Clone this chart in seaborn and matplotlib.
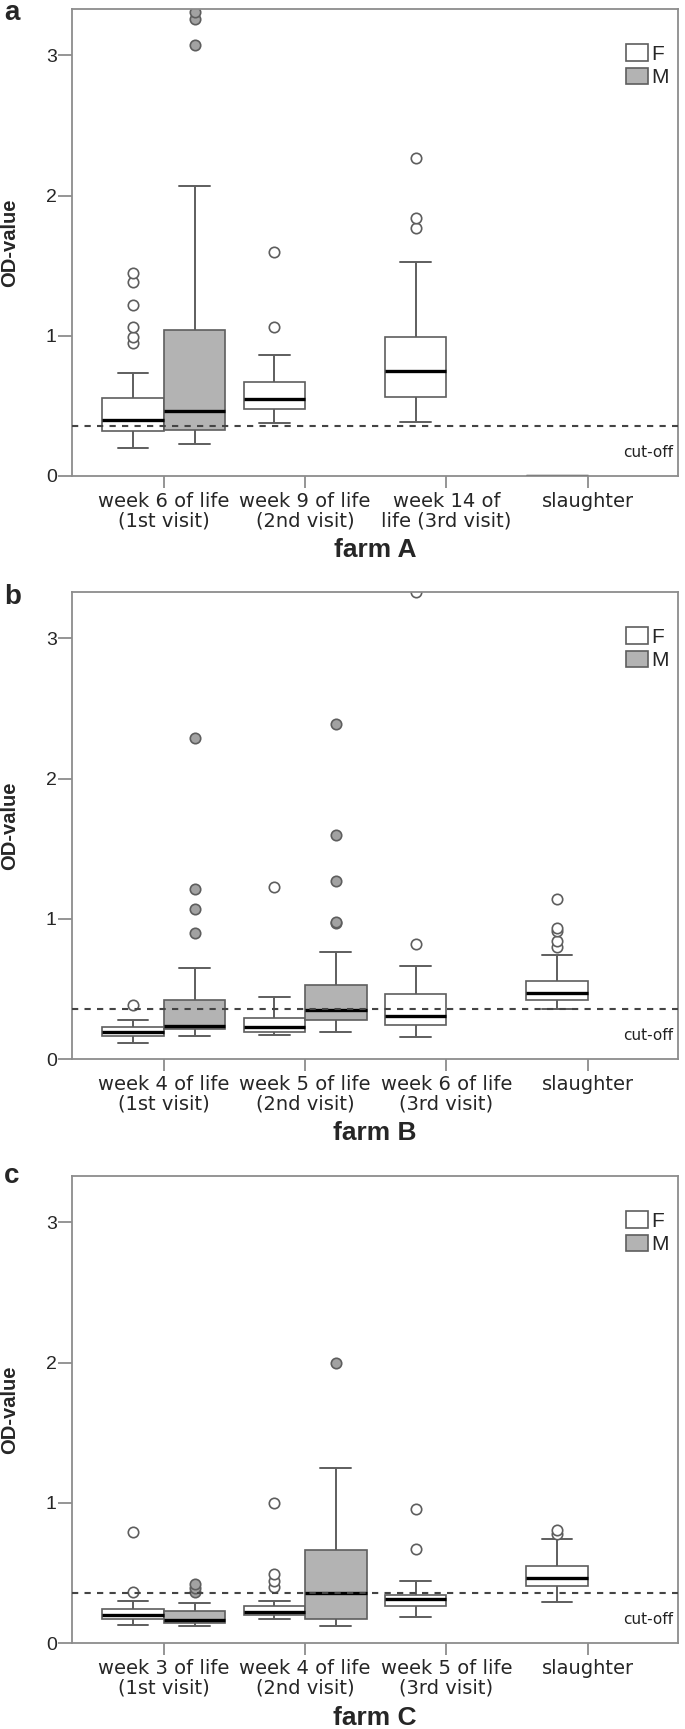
import pandas as pd
import matplotlib.pyplot as plt
import seaborn as sns
from matplotlib.patches import Patch

# box summaries: (lower whisker, Q1, median, Q3, upper whisker)
sexes = ["F", "M"]
cutoff = 0.36

farm_a_visits = ["week 6 of life\n(1st visit)", "week 9 of life\n(2nd visit)",
                 "week 14 of\nlife (3rd visit)", "slaughter"]
farm_a_idx = [0, 0, 1, 2, 3]
farm_a_sex = ["F", "M", "F", "F", "F"]
farm_a_box = [(0.20, 0.32, 0.40, 0.555, 0.737),
              (0.225, 0.33, 0.46, 1.04, 2.07),
              (0.38, 0.48, 0.55, 0.67, 0.86),
              (0.385, 0.56, 0.75, 0.99, 1.525),
              (0.0, 0.0, 0.0, 0.0, 0.0)]
farm_a_out = [[0.95, 0.99, 1.06, 1.22, 1.38, 1.45],
              [3.07, 3.26, 3.31],
              [1.06, 1.60],
              [1.77, 1.84, 2.27],
              []]

farm_b_visits = ["week 4 of life\n(1st visit)", "week 5 of life\n(2nd visit)",
                 "week 6 of life\n(3rd visit)", "slaughter"]
farm_b_idx = [0, 0, 1, 1, 2, 3]
farm_b_sex = ["F", "M", "F", "M", "F", "F"]
farm_b_box = [(0.117, 0.167, 0.195, 0.228, 0.276),
              (0.162, 0.217, 0.238, 0.418, 0.649),
              (0.171, 0.195, 0.228, 0.295, 0.442),
              (0.19, 0.281, 0.347, 0.53, 0.763),
              (0.155, 0.24, 0.304, 0.466, 0.663),
              (0.358, 0.423, 0.474, 0.557, 0.739)]
farm_b_out = [[0.385],
              [0.896, 1.07, 1.21, 2.29],
              [1.225],
              [0.97, 0.98, 1.27, 1.60, 2.39],
              [0.82, 3.33],
              [0.80, 0.84, 0.915, 0.935, 1.14]]

farm_c_visits = ["week 3 of life\n(1st visit)", "week 4 of life\n(2nd visit)",
                 "week 5 of life\n(3rd visit)", "slaughter"]
farm_c_idx = [0, 0, 1, 1, 2, 3]
farm_c_sex = ["F", "M", "F", "M", "F", "F"]
farm_c_box = [(0.127, 0.17, 0.20, 0.24, 0.30),
              (0.12, 0.146, 0.167, 0.228, 0.286),
              (0.175, 0.20, 0.22, 0.262, 0.30),
              (0.122, 0.175, 0.36, 0.663, 1.247),
              (0.186, 0.265, 0.313, 0.34, 0.44),
              (0.29, 0.406, 0.467, 0.55, 0.743)]
farm_c_out = [[0.366, 0.79],
              [0.365, 0.39, 0.424],
              [0.40, 0.445, 0.49, 1.00],
              [2.0],
              [0.668, 0.955],
              [0.78, 0.806]]


def make_df(visits, idx, sex, boxes, outs):
    # each summary value weighted equally so seaborn gives back the same quartiles
    rows = []
    for i, s, b, o in zip(idx, sex, boxes, outs):
        vals = [v for v in b for _ in range(25)] + list(o)
        rows += [(visits[i], s, v) for v in vals]
    return pd.DataFrame(rows, columns=["visit", "sex", "od"])


sns.set_style("ticks")
plt.rcParams["font.family"] = ["Liberation Sans", "DejaVu Sans"]

EDGE = "#5e5e5e"
GRAY = "#b3b3b3"
FLIER_GRAY = "#a2a2a2"
SPINE = "#8c8c8c"
pal = {"F": "white", "M": GRAY}

fig = plt.figure(figsize=(6.85, 17.29), dpi=100)
panels = [
    ("a", "farm A", 0.7247, farm_a_visits, make_df(farm_a_visits, farm_a_idx, farm_a_sex, farm_a_box, farm_a_out), 20),
    ("b", "farm B", 0.3875, farm_b_visits, make_df(farm_b_visits, farm_b_idx, farm_b_sex, farm_b_box, farm_b_out), 604),
    ("c", "farm C", 0.0497, farm_c_visits, make_df(farm_c_visits, farm_c_idx, farm_c_sex, farm_c_box, farm_c_out), 1183),
]

for letter, farm, bottom, visits, df, ly in panels:
    ax = fig.add_axes([0.1051, bottom, 0.8847, 0.2701])
    for s, fface in [("F", "white"), ("M", FLIER_GRAY)]:
        sns.boxplot(data=df[df["sex"] == s], x="visit", y="od", hue="sex",
                    order=visits, hue_order=sexes, palette=pal, dodge=True,
                    width=0.87, gap=0,
                    linecolor=EDGE, linewidth=1.2, legend=False, ax=ax,
                    medianprops=dict(color="black", linewidth=2.4),
                    whiskerprops=dict(color=EDGE, linewidth=1.4),
                    capprops=dict(color=EDGE, linewidth=1.4),
                    flierprops=dict(marker="o", markersize=7.5, markerfacecolor=fface,
                                    markeredgecolor=EDGE, markeredgewidth=1.2))
    ax.axhline(cutoff, color="#444444", lw=1.5, ls=(0, (3, 3)), zorder=4)
    ax.text(0.992, 0.17, "cut-off", transform=ax.get_yaxis_transform(),
            ha="right", va="center", fontsize=11, color="#222222",
            family="DejaVu Sans")
    ax.set_xlim(-0.65, 3.64)
    ax.set_ylim(0, 3.33)
    ax.set_yticks([0, 1, 2, 3])
    ax.set_yticklabels(["0", "1", "2", "3"], fontsize=14)
    ax.set_xticks(range(4))
    ax.set_xticklabels(visits, fontsize=14, family="DejaVu Sans", linespacing=1.0)
    ax.tick_params(axis="x", length=8.6, width=1.3, color=SPINE, pad=3)
    ax.tick_params(axis="y", length=10, width=1.3, color=SPINE, pad=1)
    for sp in ax.spines.values():
        sp.set_visible(True)
        sp.set_color(SPINE)
        sp.set_linewidth(1.3)
    ax.set_xlabel(farm, fontsize=19, fontweight="bold", labelpad=6)
    ax.set_ylabel("OD-value", fontsize=14.5, fontweight="bold")
    ax.yaxis.label.set_va("center")
    ax.yaxis.set_label_coords(-0.103, 0.5)
    handles = [Patch(facecolor="white", edgecolor=EDGE, lw=1.2),
               Patch(facecolor=GRAY, edgecolor=EDGE, lw=1.2)]
    ax.legend(handles, sexes, loc="upper right", bbox_to_anchor=(0.985, 0.925),
              frameon=False, fontsize=15, handlelength=1.05, handleheight=0.85,
              handletextpad=0.15, labelspacing=0.2, borderaxespad=0, borderpad=0)
    fig.text(4 / 685, 1 - ly / 1729, letter, fontsize=20, fontweight="bold",
             ha="left", va="baseline")

fig.savefig("out.png", dpi=100)
